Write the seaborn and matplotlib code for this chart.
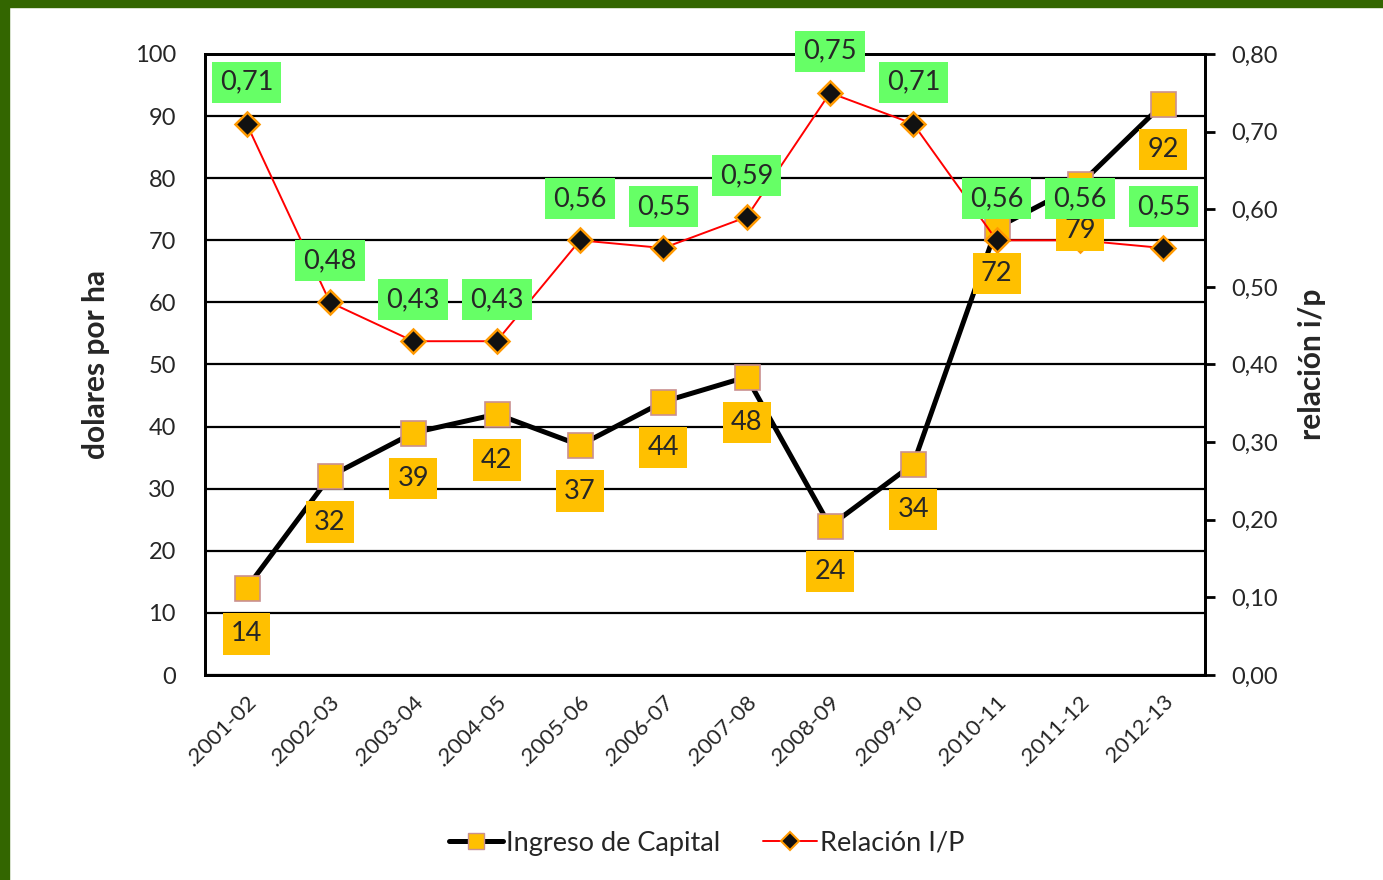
import numpy as np
import pandas as pd
import seaborn as sns
import matplotlib.pyplot as plt
from matplotlib.lines import Line2D
from matplotlib.patches import Rectangle
from matplotlib.ticker import FuncFormatter, MultipleLocator

campanias = [".2001-02", ".2002-03", ".2003-04", ".2004-05", ".2005-06", ".2006-07",
             ".2007-08", ".2008-09", ".2009-10", ".2010-11", ".2011-12", "2012-13"]
ingreso = [14, 32, 39, 42, 37, 44, 48, 24, 34, 72, 79, 92]
relacion = [0.71, 0.48, 0.43, 0.43, 0.56, 0.55, 0.59, 0.75, 0.71, 0.56, 0.56, 0.55]

sns.set_style("white")
plt.rcParams['font.family'] = ['Lato', 'DejaVu Sans']

df = pd.DataFrame({"pos": range(len(campanias)), "campania": campanias,
                   "ingreso": ingreso, "relacion": relacion})

naranja = "#FFC000"
verde = "#66FF66"
borde_verde = "#336600"

fig = plt.figure(figsize=(13.83, 8.8), dpi=100)
ax = fig.add_axes([205/1383, 1-675/880, 1000/1383, 621/880])
ax2 = ax.twinx()

sns.lineplot(data=df, x="pos", y="ingreso", ax=ax, color="black", linewidth=3.6,
             marker="s", markersize=18, markerfacecolor=naranja,
             markeredgecolor="#C99090", markeredgewidth=1.2, legend=False)
sns.lineplot(data=df, x="pos", y="relacion", ax=ax2, color="red", linewidth=1.4,
             marker="D", markersize=12.5, markerfacecolor="#111111",
             markeredgecolor="#FF9900", markeredgewidth=1.8, legend=False)

ax.set_xlim(-0.5, len(campanias) - 0.5)
ax.set_ylim(0, 100)
ax2.set_ylim(0, 0.8)
ax.yaxis.set_major_locator(MultipleLocator(10))
ax2.yaxis.set_major_locator(MultipleLocator(0.1))
ax2.yaxis.set_major_formatter(FuncFormatter(lambda v, p: f"{v:.2f}".replace(".", ",")))

ax.set_xticks(range(len(campanias)))
ax.set_xticklabels(campanias, rotation=45, ha="right", va="top", rotation_mode="anchor")
ax.tick_params(axis="x", length=0, labelsize=16, pad=12)
ax.tick_params(axis="y", length=0, labelsize=17, pad=21)
ax2.tick_params(axis="y", length=7, width=2, direction="out", labelsize=17, pad=12, color="black")

ax.grid(axis="y", color="black", linewidth=1.6)
ax.set_axisbelow(True)
for a in (ax, ax2):
    for s in a.spines.values():
        s.set_color("black")
        s.set_linewidth(2)

ax.set_xlabel("")
ax.set_ylabel("dolares por ha", fontsize=21.5, fontweight="bold", labelpad=18)
ax2.set_ylabel("relación i/p", fontsize=21.5, fontweight="bold", labelpad=14)

for i, v in enumerate(ingreso):
    ax2.annotate(f"{v}", xy=(i, v), xycoords=ax.transData, xytext=(0, -33),
                 textcoords="offset points", ha="center", va="center", fontsize=19.5,
                 bbox=dict(boxstyle="square,pad=0.3", fc=naranja, ec="none"), zorder=5)
for i, v in enumerate(relacion):
    ax2.annotate(f"{v:.2f}".replace(".", ","), xy=(i, v), xytext=(0, 30),
                 textcoords="offset points", ha="center", va="center", fontsize=19.5,
                 bbox=dict(boxstyle="square,pad=0.3", fc=verde, ec="none"), zorder=6)

handles = [
    Line2D([], [], color="black", linewidth=3.6, marker="s", markersize=12,
           markerfacecolor=naranja, markeredgecolor="#C99090"),
    Line2D([], [], color="red", linewidth=1.4, marker="D", markersize=9,
           markerfacecolor="#111111", markeredgecolor="#FF9900", markeredgewidth=1.5),
]
fig.legend(handles, ["Ingreso de Capital", "Relación I/P"], loc="center",
           bbox_to_anchor=(0.511, 1-843/880), ncol=2, frameon=False, fontsize=19.5,
           handlelength=2.0, handletextpad=0.1, columnspacing=1.6)

fig.patches.append(Rectangle((0, 1-7/880), 1, 7/880, transform=fig.transFigure,
                             color=borde_verde, zorder=10))
fig.patches.append(Rectangle((0, 0), 9/1383, 1, transform=fig.transFigure,
                             color=borde_verde, zorder=10))

fig.savefig("out.png", dpi=100)
